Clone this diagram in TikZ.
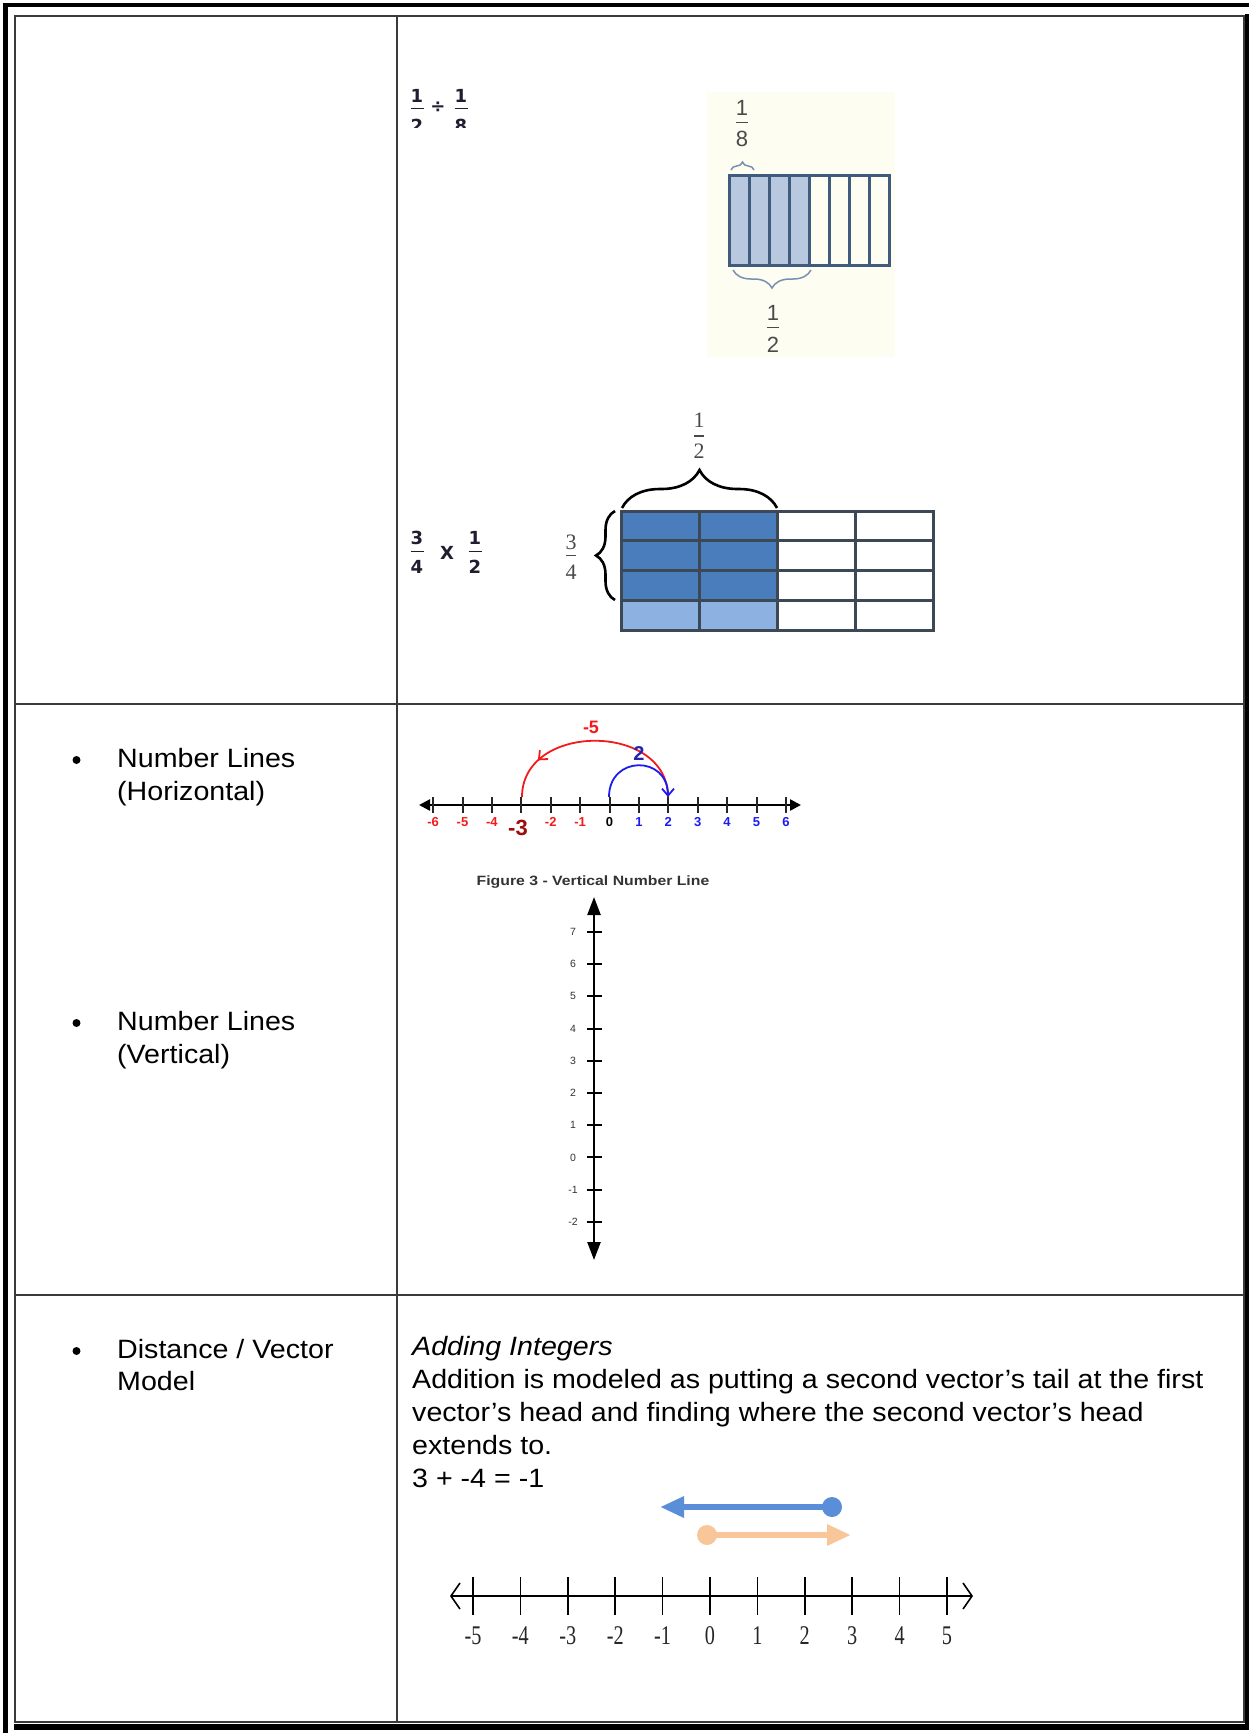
\documentclass[tikz,border=0pt]{standalone}
\usepackage{fontspec}
\setmainfont{Liberation Sans}
\newfontfamily\fracfont{DejaVu Sans}
\newfontfamily\rulerfont{Liberation Serif}
\usetikzlibrary{arrows.meta,decorations.pathreplacing,decorations.markings}

\definecolor{cellline}{HTML}{3A3A3A}
\definecolor{fracink}{HTML}{1E1E30}
\definecolor{stripline}{HTML}{3F5B7D}
\definecolor{stripfill}{HTML}{B8C9DF}
\definecolor{cream}{HTML}{FEFDF2}
\definecolor{bracetint}{HTML}{7890B0}
\definecolor{gridline}{HTML}{3C4955}
\definecolor{deepblue}{HTML}{4A7DBB}
\definecolor{paleblue}{HTML}{8DB2E2}
\definecolor{labelgray}{HTML}{4A4A4A}
\definecolor{penred}{HTML}{F21A1A}
\definecolor{penblue}{HTML}{1C1CF0}
\definecolor{pendark}{HTML}{9A0E0E}
\definecolor{inkblue}{HTML}{2424B0}
\definecolor{vecblue}{HTML}{5B8ED9}
\definecolor{vecorange}{HTML}{F9C69A}

% body text is set slightly wide, as on screen
\newcommand\widetext[1]{\scalebox{1.08}[1]{#1}}

\begin{document}
\begin{tikzpicture}[x=1pt,y=-1pt,
  bodytext/.style={font=\fontsize{26.5}{33}\selectfont, inner sep=0pt, anchor=base west},
  bulletdot/.style={circle, fill=black, inner sep=0pt, minimum size=8pt},
  fracnum/.style={font=\fracfont\bfseries\fontsize{18}{18}\selectfont, text=fracink, inner sep=0pt, anchor=base},
  graylabel/.style={font=\fontsize{22}{22}\selectfont, text=labelgray, inner sep=0pt, anchor=base},
  seriflabel/.style={font=\rulerfont\fontsize{22}{22}\selectfont, text=labelgray, inner sep=0pt, anchor=base},
  handlabel/.style={font=\bfseries\fontsize{13}{13}\selectfont, inner sep=0pt, anchor=center},
  vlabel/.style={font=\fontsize{10.5}{10.5}\selectfont, text=black!80, inner sep=0pt, anchor=center},
  rulerlabel/.style={font=\rulerfont\fontsize{27}{27}\selectfont, text=black!85, inner sep=0pt, anchor=center},
  cellrule/.style={cellline, line width=1.7pt},
  barb/.tip={Straight Barb[length=7pt,width=12pt]},
]
\useasboundingbox (0,0) rectangle (1249,1733);

% ---------- table frame ----------
\draw[line width=4.5pt] (3,5) -- (1249,5);
\draw[line width=4.5pt] (5.5,3) -- (5.5,1733);
\draw[line width=4.5pt] (1247,14) -- (1247,1730);
\draw[line width=6pt] (14,1726.5) -- (1249,1726.5);
\draw[cellrule] (15,16) rectangle (1244,1722);
\draw[cellrule] (397,16) -- (397,1722);
\draw[cellrule] (15,704) -- (1244,704);
\draw[cellrule] (15,1295) -- (1244,1295);

% ---------- row 1: fraction division ----------
\node[fracnum] (q1n) at (417,102) {1};
\draw[fracink, line width=1.4pt] (410.5,108.5) -- (423.5,108.5);
\node[fracnum, anchor=center] (qdiv) at (438,107) {÷};
\node[fracnum] (q2n) at (461,102) {1};
\draw[fracink, line width=1.4pt] (454.5,108.5) -- (467.5,108.5);
\begin{scope}
  \clip (400,112) rectangle (480,127);
  \node[fracnum] (q1d) at (417,132) {2};
  \node[fracnum] (q2d) at (461,132) {8};
\end{scope}

% strip model of 1/2 divided into eighths
\fill[cream] (707,92) rectangle (895,357);
\fill[stripfill] (729,175) rectangle (809,265);
\foreach \i in {1,...,7} \draw[stripline, line width=3pt] ({729+20*\i},175) -- ({729+20*\i},265);
\draw[stripline, line width=3pt] (729,175) rectangle (889,265);
\draw[bracetint, line width=1.5pt, decorate, decoration={brace, amplitude=8pt}] (731,170) -- (754,170);
\draw[bracetint, line width=1.5pt, decorate, decoration={brace, amplitude=18pt}] (811,270) -- (733,270);
\node[graylabel] (e8n) at (742,115) {1};
\draw[labelgray, line width=1.4pt] (736,122.5) -- (748,122.5);
\node[graylabel] (e8d) at (742,146) {8};
\node[graylabel] (e2n) at (773,320) {1};
\draw[labelgray, line width=1.4pt] (767,327.5) -- (779,327.5);
\node[graylabel] (e2d) at (773,352) {2};

% ---------- row 1: fraction product ----------
\node[fracnum] (p1n) at (417,544) {3};
\draw[fracink, line width=1.4pt] (410.5,551.5) -- (423.5,551.5);
\node[fracnum] (p1d) at (417,573) {4};
\node[fracnum] (ptimes) at (447,559) {X};
\node[fracnum] (p2n) at (475,544) {1};
\draw[fracink, line width=1.4pt] (468.5,551.5) -- (481.5,551.5);
\node[fracnum] (p2d) at (475,573) {2};

\fill[deepblue] (621,511) rectangle (777,600.25);
\fill[paleblue] (621,600.25) rectangle (777,630);
\foreach \i in {1,2,3} \draw[gridline, line width=3pt] ({621+78*\i},511) -- ({621+78*\i},630);
\foreach \j in {1,2,3} \draw[gridline, line width=3pt] (621,{511+29.75*\j}) -- (933,{511+29.75*\j});
\draw[gridline, line width=3pt] (621,511) rectangle (933,630);
\draw[line width=2.6pt, decorate, decoration={brace, amplitude=38pt}] (622,508) -- (777,508);
\draw[line width=2.6pt, decorate, decoration={brace, amplitude=19pt}] (615,600) -- (615,511);
\node[seriflabel] (g2n) at (699,427) {1};
\draw[labelgray, line width=1.2pt] (694,436) -- (704,436);
\node[seriflabel] (g2d) at (699,458) {2};
\node[seriflabel] (g4n) at (571,549) {3};
\draw[labelgray, line width=1.2pt] (566,555.5) -- (576,555.5);
\node[seriflabel] (g4d) at (571,579) {4};

% ---------- row 2: labels ----------
\node[bulletdot] (b1) at (76.5,760) {};
\node[bodytext] (l1a) at (117,767) {\widetext{Number Lines}};
\node[bodytext] (l1b) at (117,800) {\widetext{(Horizontal)}};
\node[bulletdot] (b2) at (76.5,1023) {};
\node[bodytext] (l2a) at (117,1030) {\widetext{Number Lines}};
\node[bodytext] (l2b) at (117,1063) {\widetext{(Vertical)}};

% horizontal number line with jumps
\draw[line width=2.4pt, {Triangle[length=11pt,width=11pt]}-{Triangle[length=11pt,width=11pt]}] (419,805) -- (801,805);
\foreach \i in {-6,...,6} \draw[line width=2pt, black!85] ({609.5+29.4*\i},797) -- ({609.5+29.4*\i},813);
\foreach \i/\c [count=\n] in {-6/penred,-5/penred,-4/penred,-2/penred,-1/penred,0/black,1/penblue,2/penblue,3/penblue,4/penblue,5/penblue,6/penblue}
  \node[handlabel, text=\c] (hl\n) at ({609.5+29.4*\i},822) {\i};
\node[handlabel, text=pendark, font=\bfseries\fontsize{22}{22}\selectfont] (hm3) at (518,828) {-3};
\draw[penred, line width=1.8pt, postaction={decorate},
  decoration={markings, mark=at position 0.8 with {\arrow{barb}}}]
  (668,797) .. controls (668,722) and (522,722) .. (522,797);
\draw[penblue, line width=1.8pt, -barb] (609,797) .. controls (609,755) and (668,755) .. (668,797);
\node[handlabel, text=penred, font=\bfseries\fontsize{18}{18}\selectfont] (jm5) at (591,727) {-5};
\node[handlabel, text=inkblue, font=\bfseries\fontsize{20}{20}\selectfont] (jp2) at (639,754) {2};

% vertical number line
\node[font=\bfseries\fontsize{13.5}{13.5}\selectfont, text=black!80, inner sep=0pt] (vtitle) at (593,882) {\scalebox{1.17}[1]{Figure 3 - Vertical Number Line}};
\draw[line width=2.4pt, {Triangle[length=18pt,width=13pt]}-{Triangle[length=18pt,width=13pt]}] (594,897) -- (594,1260);
\foreach \k [count=\n] in {7,6,...,-2} {
  \draw[line width=2pt] (587,{932+(7-\k)*32.2}) -- (602,{932+(7-\k)*32.2});
  \node[vlabel] (vl\n) at (573,{932+(7-\k)*32.2}) {\k};
}

% ---------- row 3: vector model ----------
\node[bulletdot] (b3) at (76.5,1351) {};
\node[bodytext] (l3a) at (117,1358) {\widetext{Distance / Vector}};
\node[bodytext] (l3b) at (117,1390) {\widetext{Model}};

\node[bodytext] (t1) at (412,1355) {\widetext{\itshape Adding Integers}};
\node[bodytext] (t2) at (412,1388) {\widetext{Addition is modeled as putting a second vector’s tail at the first}};
\node[bodytext] (t3) at (412,1421) {\widetext{vector’s head and finding where the second vector’s head}};
\node[bodytext] (t4) at (412,1454) {\widetext{extends to.}};
\node[bodytext] (t5) at (412,1487) {\widetext{3 + -4 = -1}};

\node[circle, fill=vecblue, inner sep=0pt, minimum size=20pt] (btail) at (832,1507) {};
\coordinate (bhead) at (660,1507);
\draw[vecblue, line width=6pt, -{Triangle[length=24pt,width=20pt]}] (btail.center) -- (bhead);
\node[circle, fill=vecorange, inner sep=0pt, minimum size=20pt] (otail) at (707,1535) {};
\coordinate (ohead) at (851,1535);
\draw[vecorange, line width=6pt, -{Triangle[length=24pt,width=20pt]}] (otail.center) -- (ohead);

\draw[line width=1.6pt, {Straight Barb[length=9pt,width=26pt]}-{Straight Barb[length=9pt,width=26pt]}] (450,1596) -- (973,1596);
\foreach \k [count=\n] in {-5,...,5} {
  \draw[line width=1.6pt] ({710+47.4*\k},1577) -- ({710+47.4*\k},1615);
  \node[rulerlabel] (rl\n) at ({710+47.4*\k},1636) {\scalebox{0.75}[1]{\k}};
}
\end{tikzpicture}
\end{document}
